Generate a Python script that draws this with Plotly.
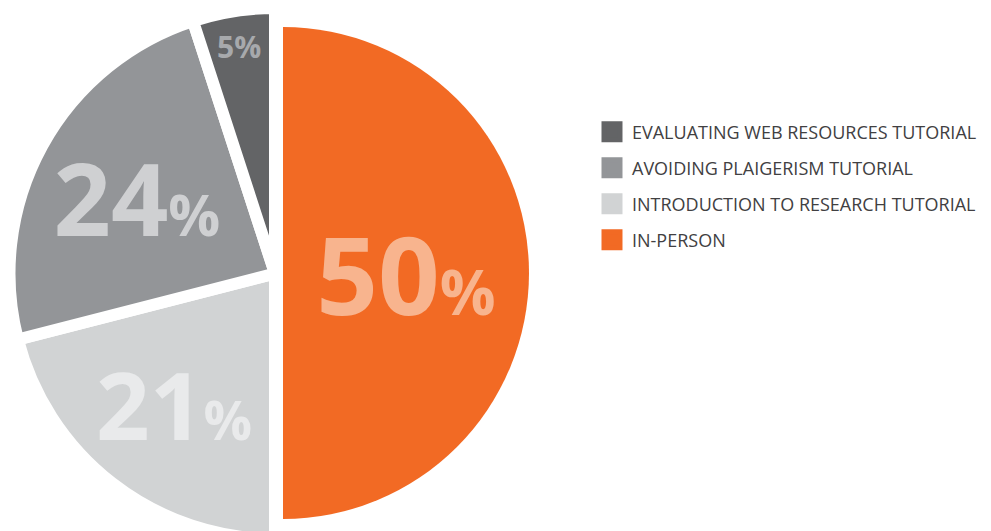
import plotly.graph_objects as go

# Slices in clockwise order starting at 12 o'clock
labels = ["IN-PERSON", "INTRODUCTION TO RESEARCH TUTORIAL",
          "AVOIDING PLAIGERISM TUTORIAL", "EVALUATING WEB RESOURCES TUTORIAL"]
values = [50, 21, 24, 5]
slice_colors = ["#F26A24", "#D1D3D4", "#939598", "#636466"]
label_colors = ["#F8B48E", "#E9EAEB", "#CFD0D2", "#A7A9AC"]
label_sizes = [108, 108, 108, 30]
pct_sizes = [62, 62, 62, 30]

def pct_text(v, big, small):
    if big == small:
        return f"{v}%"
    return f"{v}<span style='font-size:{small}px'>%</span>"

texts = [pct_text(v, b, s) for v, b, s in zip(values, label_sizes, pct_sizes)]
n = len(values)
orange_idx = labels.index("IN-PERSON")

FONT = "Open Sans"
common = dict(labels=labels, values=values, sort=False, direction="clockwise", rotation=0,
              textinfo="text", textposition="inside", insidetextorientation="horizontal",
              hoverinfo="label+percent", showlegend=False)

fig = go.Figure()
# Orange (smaller) pie: the 50% slice
fig.add_trace(go.Pie(
    marker=dict(colors=slice_colors, line=dict(width=0)),
    text=[t if i == orange_idx else "" for i, t in enumerate(texts)],
    textfont=dict(family=FONT, color=label_colors, size=label_sizes, weight="bold"),
    domain=dict(x=[0.029263, 0.525732], y=[0.037665, 0.964218]),
    **common,
))

# Gray (larger) pie: the three tutorial slices with white gaps
gray_colors = [c if i != orange_idx else "rgba(0,0,0,0)" for i, c in enumerate(slice_colors)]
line_widths = [12 if i != orange_idx else 16 for i in range(n)]
fig.add_trace(go.Pie(
    marker=dict(colors=gray_colors, line=dict(color="white", width=line_widths)),
    text=[t if i != orange_idx else "" for i, t in enumerate(texts)],
    textfont=dict(family=FONT, color=label_colors, size=label_sizes, weight="bold"),
    domain=dict(x=[0.001514, 0.537336], y=[0.0, 1.0]),
    **common,
))

# Legend entries (listed from the smallest slice to the largest)
for i in reversed(range(n)):
    fig.add_trace(go.Scatter(
        x=[None], y=[None], mode="markers", name=labels[i], legendgroup=labels[i],
        marker=dict(symbol="square", size=16, color=slice_colors[i],
                    line=dict(width=5, color=slice_colors[i])),
        showlegend=True, hoverinfo="skip",
    ))

fig.update_layout(
    width=991, height=531,
    margin=dict(l=0, r=0, t=0, b=0),
    paper_bgcolor="white", plot_bgcolor="white",
    xaxis=dict(visible=False), yaxis=dict(visible=False),
    legend=dict(x=0.5893, y=0.8013, xanchor="left", yanchor="top",
                font=dict(family=FONT, size=18, color="#414042"),
                tracegroupgap=9.6, itemsizing="trace",
                bgcolor="rgba(0,0,0,0)"),
)

fig.write_html("out.html")
